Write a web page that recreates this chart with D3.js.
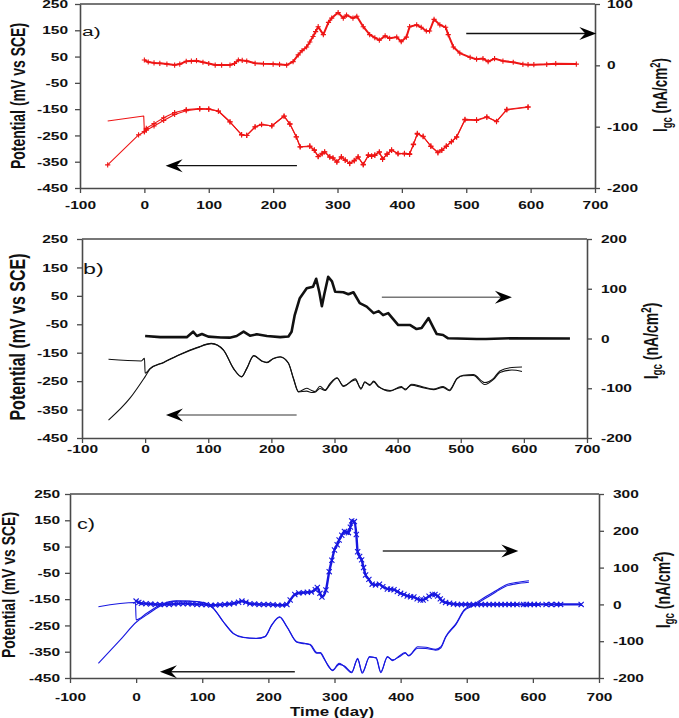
<!DOCTYPE html>
<html><head><meta charset="utf-8">
<script src="https://cdn.jsdelivr.net/npm/d3@7"></script>
<style>body{margin:0;background:#fff}svg{display:block}</style>
</head><body>
<script>
// ---------- shared ticks ----------
const xTicks = [-100, 0, 100, 200, 300, 400, 500, 600, 700];
const potTicks = [-450, -350, -250, -150, -50, 50, 150, 250];
const igcTicksA = [-200, -100, 0, 100];
const igcTicksB = [-200, -100, 0, 100, 200];
const igcTicksC = [-200, -100, 0, 100, 200, 300];

// ---------- panel a ----------
const aIgcDays = [0,6,15,24,35,47,55,65,73,81,91,100,110,120,133,140,146,152,159,172,185,200,210,221,231,239,245,252,257,262,266,270,278,286,291,301,309,314,324,330,340,350,358,365,374,381,392,399,407,412,423,430,438,443,450,459,468,472,480,490,506,516,526,534,544,557,573,588,596,605,625,639,671];
const aIgc = [8.7,5.4,4,3.3,2,0.5,2,6.5,7,7.6,5,3,0.5,0.5,0.5,3,8.7,8,7,3.3,2.5,2,1.5,0.5,6,17,24,30,38,47,55,63,50,70,77,86,77,82,77,80,63,50,45,41,48,44,46,38.5,46,63,66,62,56,56,75,66,62,50,30,20,13,10,11,6,11,7,5,1.6,1,1,1.6,2.7,2];
const aPotADays = [-57,-1,0,3,15,30,47,65,86,100,115,133,151,159,172,182,198,217,226,236,242,257,264,270,276,280,288,293,299,306,312,319,326,332,340,348,353,358,365,370,377,384,394,404,412,418,424,433,445,456,462,469,477,485,498,516,532,547,563,596];
const aPotA = [-195,-176,-236,-223,-205,-183,-163,-152,-148,-150,-157,-198,-248,-250,-217,-208,-214,-176,-206,-255,-293,-290,-305,-331,-318,-312,-331,-335,-350,-331,-345,-356,-345,-331,-362,-324,-330,-324,-312,-341,-320,-305,-320,-318,-320,-285,-242,-255,-290,-316,-305,-290,-275,-255,-189,-191,-179,-198,-151,-141];
const aPotBDays = [-57,-9,0,3,15,30,47,65,86,100,115,133,151,159,172,182,198,217,226,236,242,257,264,270,276,280,288,293,299,306,312,319,326,332,340,348,353,358,365,370,377,384,394,404,412,418,424,433,445,456,462,469,477,485,498,516,532,547,563,596];
const aPotB = [-362,-248,-236,-230,-214,-193,-170,-156,-149,-150,-158,-199,-247,-250,-218,-209,-213,-177,-207,-256,-294,-292,-307,-330,-320,-313,-333,-337,-352,-333,-343,-357,-347,-333,-360,-326,-328,-326,-314,-339,-322,-307,-318,-320,-322,-283,-245,-253,-292,-314,-307,-292,-273,-257,-191,-193,-181,-196,-153,-143];

// ---------- panel b ----------
const bIgcDays = [0,24,50,66,76,82,90,100,120,134,145,156,166,177,193,214,227,232,237,245,256,266,271,276,280,284,290,296,301,314,322,330,340,351,362,370,377,385,401,420,430,438,449,457,462,472,480,525,540,578,673];
const bIgc = [5,2.7,2.7,2.7,13.7,5,9,3.7,2,1.7,5,13.7,5.7,8.4,5,2.7,4,13.7,47,81,101,104,120,93,65,90,124,115,94,93,89,93,71,64,51,55,47,51,27,27,19,21,41,21,9,7,0.4,-1,-1,0.4,0];
const bPotADays = [-58,-6,-1,0,8,29,55,82,105,124,140,153,161,172,185,193,203,214,227,235,243,256,263,269,277,285,293,304,314,333,342,348,356,362,370,388,406,412,422,438,457,472,482,494,504,520,538,552,562,581,597];
const bPotA = [-173,-179,-170,-222,-205,-184,-156,-132,-117,-140,-205,-234,-205,-160,-179,-184,-170,-164,-186,-240,-287,-275,-282,-287,-268,-281,-258,-238,-269,-242,-278,-252,-265,-250,-269,-285,-269,-281,-261,-269,-278,-269,-281,-240,-229,-227,-255,-240,-214,-202,-200];
const bPotBDays = [-58,-24,0,8,29,55,82,105,124,140,153,161,172,185,193,203,214,227,235,243,256,263,269,277,285,293,304,314,333,342,348,356,362,370,388,406,412,422,438,457,472,482,494,504,520,538,552,562,581,597];
const bPotB = [-387,-310,-234,-207,-185,-157,-133,-118,-141,-206,-235,-206,-161,-180,-185,-171,-165,-187,-242,-288,-285,-290,-289,-276,-283,-262,-240,-266,-246,-275,-255,-262,-253,-271,-283,-272,-278,-264,-272,-280,-272,-284,-242,-231,-230,-262,-244,-220,-211,-216];

// ---------- panel c ----------
const cIgcDays = [0,4,8,15,22,29,36,43,50,57,64,71,78,85,92,99,106,113,120,127,134,141,148,155,160,166,172,179,186,193,200,207,214,221,228,233,240,246,253,259,265,271,274,278,281,287,292,296,300,304,307,311,315,318,321,324,326,330,333,335,338,341,344,347,352,357,362,368,373,380,385,390,395,400,405,410,415,420,425,430,434,438,443,448,452,456,460,463,468,474,480,486,492,498,504,510,516,522,528,534,540,546,552,558,564,570,576,586,590,596,602,608,620,628,636,642,673];
const cIgc = [9,5,3,2,1,0,0,0,0,1,2,2,2,1,0,0,-1,-2,-2,-1,0,1,3,6,9,6,2,1,0,0,0,-1,-2,-2,0,12,27,31,32,33,34,40,46,30,20,39,89,120,148,162,175,188,198,196,195,210,227,225,190,143,130,121,100,80,68,55,53,55,48,42,41,40,35,30,27,23,21,20,15,12,12,16,22,27,27,23,15,9,5,3,1,0,0,0,0,0,0,0,0,0,0,0,0,0,0,0,0,0,0,0,0,0,0,0,0,0,0];
const cPotADays = [-57,-1,0,16,36,61,80,102,117,132,147,162,182,195,205,217,228,243,255,263,273,279,283,291,297,307,315,326,335,342,353,363,370,380,388,398,407,412,426,438,453,461,468,484,496,509,529,544,559,574,594];
const cPotA = [-179,-163,-229,-204,-172,-156,-157,-163,-185,-236,-280,-295,-299,-292,-248,-217,-254,-312,-318,-324,-356,-353,-368,-407,-420,-394,-407,-430,-375,-432,-368,-375,-430,-368,-384,-366,-353,-366,-331,-333,-341,-331,-293,-242,-191,-172,-140,-118,-96,-87,-80];
const cPotBDays = [-57,-24,1,16,36,61,80,102,117,132,147,162,182,195,205,217,228,243,255,263,273,279,283,291,297,307,315,326,335,342,353,363,370,380,388,398,407,412,426,438,453,461,468,484,496,509,529,544,559,574,594];
const cPotB = [-394,-305,-236,-210,-177,-158,-158,-164,-186,-237,-281,-296,-300,-293,-250,-219,-256,-314,-320,-322,-353,-356,-372,-404,-422,-398,-404,-427,-379,-428,-371,-372,-426,-371,-381,-369,-356,-364,-337,-338,-344,-335,-296,-245,-195,-176,-146,-123,-101,-92,-86];

// ---------- annotation arrows (day, value) ----------
const arrowsA = {left: [[237,-365],[33,-365]], right: [[500,52],[702,52]]};
const arrowsB = {left: [[240,-369],[33,-369]], right: [[375,83],[581,83]]};
const arrowsC = {left: [[240,-426],[36,-426]], right: [[373,145],[578,145]]};

const RED = "#ee1515", BLUE = "#1818e0", BLACK = "#111";
const AXC = "#4a4a4a";
const FONT = "'Liberation Sans', Arial, Helvetica, sans-serif";

const svg = d3.select("body").append("svg")
  .attr("width", 679).attr("height", 718)
  .style("font-family", FONT);

const pairs = (days, vals) => days.map((d, i) => [d, vals[i]]);

function drawPanel(p) {
  const x = d3.scaleLinear().domain([-100, 700]).range([p.left, p.right]);
  const yL = d3.scaleLinear().domain([-450, 250]).range([p.bottom, p.top]);
  const yR = d3.scaleLinear().domain(p.rDomain).range([p.bottom, p.top]);
  const g = svg.append("g");
  const S = p.stretch;
  const fmt = d => String(d);

  const gx = g.append("g").attr("transform", `translate(0,${p.bottom})`)
    .call(d3.axisBottom(x).tickValues(xTicks).tickSize(5).tickSizeOuter(0).tickFormat(fmt));
  gx.selectAll(".tick text").attr("y", p.xLabOff).attr("dy", "0.36em");
  const gl = g.append("g").attr("transform", `translate(${p.left},0)`)
    .call(d3.axisLeft(yL).tickValues(potTicks).tickSize(5).tickSizeOuter(0).tickFormat(fmt));
  gl.selectAll(".tick text").attr("x", -p.lGap / S).attr("dy", "0.36em");
  const gr = g.append("g").attr("transform", `translate(${p.right},0)`)
    .call(d3.axisRight(yR).tickValues(p.rTicks).tickSize(5).tickSizeOuter(0).tickFormat(fmt));
  gr.selectAll(".tick text").attr("x", p.rGap / S).attr("dy", "0.36em");

  [gx, gl, gr].forEach(a => {
    a.selectAll("path.domain").attr("stroke", AXC).attr("stroke-width", 1.6);
    a.selectAll(".tick line").attr("stroke", AXC).attr("stroke-width", 1.3);
    a.selectAll(".tick text")
      .attr("fill", "#111")
      .style("font-family", FONT).style("font-weight", "bold").style("font-size", "10px")
      .attr("transform", `scale(${S},1)`);
  });
  g.append("line").attr("x1", p.left).attr("x2", p.right)
    .attr("y1", p.top).attr("y2", p.top).attr("stroke", AXC).attr("stroke-width", 1.6);

  const lineL = d3.line().x(d => x(d[0])).y(d => yL(d[1])).curve(p.potCurve);
  const lineR = d3.line().x(d => x(d[0])).y(d => yR(d[1])).curve(p.igcCurve);

  p.pots.forEach(ser => {
    const data = pairs(ser.days, ser.vals);
    g.append("path").datum(data).attr("d", lineL)
      .attr("fill", "none").attr("stroke", p.color).attr("stroke-width", p.potWidth)
      .attr("stroke-linejoin", "round");
    if (p.potMarker) drawMarkers(g, data.slice(ser.skip || 0), d => x(d[0]), d => yL(d[1]), p.potMarker, p.color);
  });
  const igcData = pairs(p.igc.days, p.igc.vals);
  g.append("path").datum(igcData).attr("d", lineR)
    .attr("fill", "none").attr("stroke", p.color).attr("stroke-width", p.igcWidth)
    .attr("stroke-linejoin", "round");
  if (p.igcMarker) drawMarkers(g, igcData, d => x(d[0]), d => yR(d[1]), p.igcMarker, p.color);

  drawArrow(g, p.arrows.left, x, yL, p.arrowLeftColor);
  drawArrow(g, p.arrows.right, x, yR, p.arrowRightColor);

  g.append("text").attr("transform", `translate(${p.letterX},${p.letterY}) scale(${S},1)`)
    .style("font-size", p.letterSize + "px").attr("fill", "#111").text(p.letter);

  g.append("text")
    .attr("transform", `translate(${p.lTitleX},${p.lTitleY}) scale(${p.lTitleS},1) rotate(-90)`)
    .attr("text-anchor", "middle").style("font-weight", "bold")
    .style("font-size", p.lTitleSize + "px").attr("fill", "#111")
    .text("Potential (mV vs SCE)");

  const rt = g.append("text")
    .attr("transform", `translate(${p.rTitleX},${p.rTitleY}) scale(${p.rTitleS},1) rotate(-90)`)
    .attr("text-anchor", "middle").style("font-weight", "bold")
    .style("font-size", p.rTitleSize + "px").attr("fill", "#111");
  rt.append("tspan").text("I");
  rt.append("tspan").attr("dy", 3).style("font-size", "70%").text("gc");
  rt.append("tspan").attr("dy", -3).text(" (nA/cm");
  rt.append("tspan").attr("dy", -5).style("font-size", "70%").text("2");
  rt.append("tspan").attr("dy", 5).text(")");
}

function drawMarkers(g, data, fx, fy, type, color) {
  const r = 2.6;
  const path = d => {
    const cx = fx(d), cy = fy(d);
    return type === "plus"
      ? `M${cx - r},${cy}H${cx + r}M${cx},${cy - r}V${cy + r}`
      : `M${cx - r},${cy - r}L${cx + r},${cy + r}M${cx - r},${cy + r}L${cx + r},${cy - r}`;
  };
  g.append("path").attr("d", data.map(path).join(""))
    .attr("stroke", color).attr("stroke-width", 1.1).attr("fill", "none");
}

function drawArrow(g, seg, x, y, color) {
  const [a, b] = seg;
  const x1 = x(a[0]), y1 = y(a[1]), x2 = x(b[0]), y2 = y(b[1]);
  const ang = Math.atan2(y2 - y1, x2 - x1) * 180 / Math.PI;
  g.append("line").attr("x1", x1).attr("y1", y1)
    .attr("x2", x2 - 10 * Math.cos(ang * Math.PI / 180)).attr("y2", y2)
    .attr("stroke", color).attr("stroke-width", 1.4);
  g.append("path").attr("d", "M0,0L-17,-6.5L-11,0L-17,6.5Z")
    .attr("transform", `translate(${x2},${y2}) rotate(${ang})`).attr("fill", "#000");
}

const panels = [
  {
    left: 80, right: 595, top: 4, bottom: 188, rDomain: [-200, 100], rTicks: igcTicksA,
    stretch: 1.55, xLabOff: 17, lGap: 12, rGap: 12,
    color: RED, potCurve: d3.curveLinear, igcCurve: d3.curveLinear,
    potWidth: 1.1, igcWidth: 2, potMarker: "plus", igcMarker: "plus",
    pots: [{days: aPotADays, vals: aPotA, skip: 2}, {days: aPotBDays, vals: aPotB}],
    igc: {days: aIgcDays, vals: aIgc},
    arrows: arrowsA, arrowLeftColor: "#111", arrowRightColor: "#111",
    letter: "a)", letterX: 82, letterY: 36, letterSize: 13.5,
    lTitleX: 25, lTitleY: 96, lTitleS: 1.5, lTitleSize: 14,
    rTitleX: 667, rTitleY: 95, rTitleS: 1.5, rTitleSize: 13.5
  },
  {
    left: 82, right: 587, top: 239, bottom: 438, rDomain: [-200, 200], rTicks: igcTicksB,
    stretch: 1.55, xLabOff: 11, lGap: 14, rGap: 14,
    color: BLACK, potCurve: d3.curveMonotoneX, igcCurve: d3.curveLinear,
    potWidth: 1.1, igcWidth: 2.6, potMarker: null, igcMarker: null,
    pots: [{days: bPotADays, vals: bPotA}, {days: bPotBDays, vals: bPotB}],
    igc: {days: bIgcDays, vals: bIgc},
    arrows: arrowsB, arrowLeftColor: "#777", arrowRightColor: "#777",
    letter: "b)", letterX: 83, letterY: 274, letterSize: 15,
    lTitleX: 25, lTitleY: 337, lTitleS: 1.35, lTitleSize: 16,
    rTitleX: 658, rTitleY: 341, rTitleS: 1.4, rTitleSize: 14
  },
  {
    left: 70, right: 599, top: 494, bottom: 678, rDomain: [-200, 300], rTicks: igcTicksC,
    stretch: 1.55, xLabOff: 19, lGap: 10, rGap: 14,
    color: BLUE, potCurve: d3.curveMonotoneX, igcCurve: d3.curveMonotoneX,
    potWidth: 1.1, igcWidth: 2.4, potMarker: null, igcMarker: "x",
    pots: [{days: cPotADays, vals: cPotA}, {days: cPotBDays, vals: cPotB}],
    igc: {days: cIgcDays, vals: cIgc},
    arrows: arrowsC, arrowLeftColor: "#222", arrowRightColor: "#333",
    letter: "c)", letterX: 77, letterY: 529, letterSize: 14,
    lTitleX: 15, lTitleY: 585, lTitleS: 1.25, lTitleSize: 14,
    rTitleX: 670, rTitleY: 590, rTitleS: 1.4, rTitleSize: 14
  }
];

panels.forEach(drawPanel);

svg.append("text").attr("transform", "translate(332,716) scale(1.3,1)")
  .attr("text-anchor", "middle").style("font-weight", "bold").style("font-size", "13px")
  .attr("fill", "#111").text("Time (day)");
</script>
</body></html>
